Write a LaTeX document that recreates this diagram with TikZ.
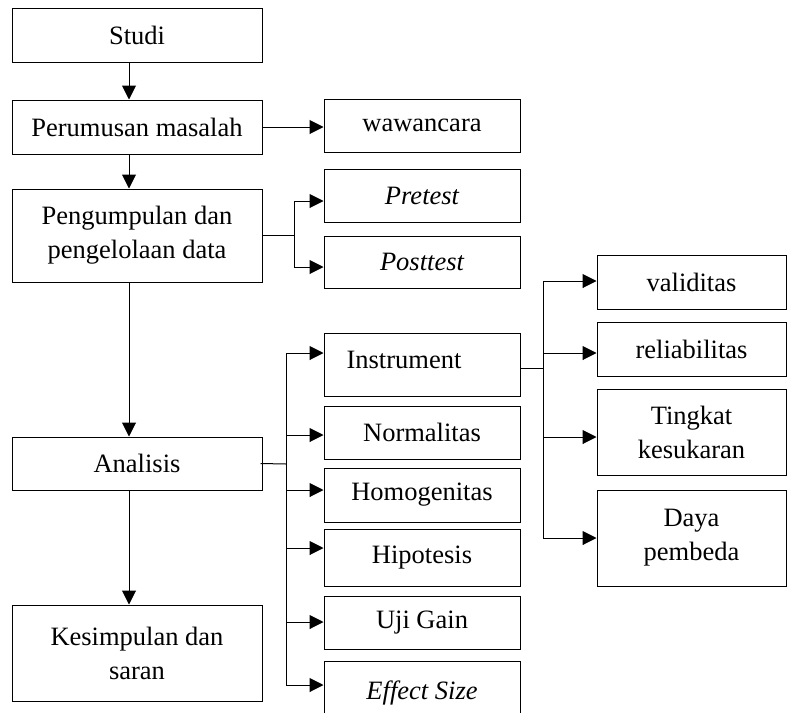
\documentclass[tikz,border=0pt]{standalone}
\usepackage{fontspec}
\setmainfont{Liberation Serif}
\usetikzlibrary{arrows.meta}
\begin{document}
\begin{tikzpicture}[x=1pt,y=-1pt,
  box/.style={draw, line width=1pt, inner sep=0pt, align=center,
    font=\fontsize{26.5}{34}\selectfont},
  arr/.style={line width=1pt, -{Triangle[length=14pt,width=14pt]}},
  ln/.style={line width=1pt}]
\useasboundingbox (0,0) rectangle (791,712);
% left column
\node[box, minimum width=250pt, minimum height=54pt] (studi) at (137,35) {Studi};
\node[box, minimum width=250pt, minimum height=54pt] (perum) at (137,127) {Perumusan masalah};
\node[box, minimum width=250pt, minimum height=93pt] (pengum) at (137,235.5) {Pengumpulan dan\\pengelolaan data};
\node[box, minimum width=250pt, minimum height=53pt] (anal) at (137,463.5) {Analisis};
\node[box, minimum width=250pt, minimum height=96pt] (kesim) at (137,653) {Kesimpulan dan\\saran};
% second column
\node[box, minimum width=196pt, minimum height=53pt] (wawan) at (422,125.5) {wawancara};
\node[box, minimum width=196pt, minimum height=53pt] (pre) at (422,195.5) {\itshape Pretest};
\node[box, minimum width=196pt, minimum height=52pt] (post) at (422,262) {\itshape Posttest};
\node[box, minimum width=196pt, minimum height=63pt] (instr) at (422,364.5) {};
\node[font=\fontsize{26.5}{34}\selectfont] (instrtxt) at (404,360) {Instrument};
\node[box, minimum width=196pt, minimum height=53pt] (norm) at (422,432.5) {Normalitas};
\node[box, minimum width=196pt, minimum height=54pt] (homo) at (422,495) {Homogenitas};
\node[box, minimum width=196pt, minimum height=57pt] (hipo) at (422,557.5) {Hipotesis};
\node[box, minimum width=196pt, minimum height=53pt] (uji) at (422,622.5) {Uji Gain};
\node[box, minimum width=196pt, minimum height=64pt] (eff) at (422,693) {\itshape Effect Size};
% third column
\node[box, minimum width=189pt, minimum height=54pt] (valid) at (691.5,282) {validitas};
\node[box, minimum width=189pt, minimum height=54pt] (reli) at (691.5,349) {reliabilitas};
\node[box, minimum width=189pt, minimum height=86pt] (ting) at (691.5,432) {Tingkat\\kesukaran};
\node[box, minimum width=189pt, minimum height=96pt] (daya) at (691.5,538) {Daya\\pembeda};
% main flow
\draw[arr] ([xshift=-8pt]studi.south) -- ([xshift=-8pt]perum.north);
\draw[arr] ([xshift=-8pt]perum.south) -- ([xshift=-8pt]pengum.north);
\draw[arr] ([xshift=-8pt]pengum.south) -- ([xshift=-8pt]anal.north);
\draw[arr] ([xshift=-8pt]anal.south) -- ([xshift=-8pt]kesim.north);
\draw[arr] (perum.east) -- (perum.east -| wawan.west);
% pengumpulan branch
\coordinate (pb) at (294,235.5);
\draw[ln] (pengum.east) -- (pb);
\draw[arr] (294,201) -- (pre.west |- 0,201);
\draw[arr] (294,201) -- (294,267) -- (post.west |- 0,267);
% analisis branch
\coordinate (ab) at (286,464);
\draw[ln] ([xshift=-2pt]anal.east) -- (ab);
\draw[ln] (286,353) -- (286,685);
\draw[arr] (286,353) -- (instr.west |- 0,353);
\draw[arr] (286,435) -- (norm.west |- 0,435);
\draw[arr] (286,490) -- (homo.west |- 0,490);
\draw[arr] (286,548) -- (hipo.west |- 0,548);
\draw[arr] (286,622) -- (uji.west |- 0,622);
\draw[arr] (286,685) -- (eff.west |- 0,685);
% instrument branch
\draw[ln] (instr.east |- 0,368) -- (543,368);
\draw[ln] (543,281) -- (543,538);
\draw[arr] (543,281) -- (valid.west |- 0,281);
\draw[arr] (543,353) -- (reli.west |- 0,353);
\draw[arr] (543,437) -- (ting.west |- 0,437);
\draw[arr] (543,538) -- (daya.west |- 0,538);
\end{tikzpicture}
\end{document}
